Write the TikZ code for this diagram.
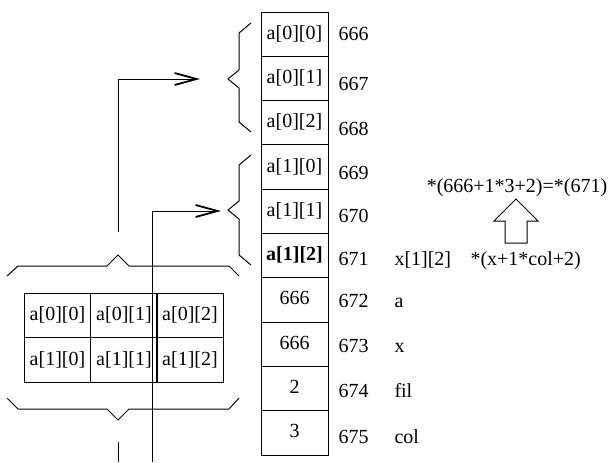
\documentclass[tikz,border=0pt]{standalone}
\usepackage{fontspec}
\setmainfont{Liberation Serif}
\usetikzlibrary{arrows.meta}
\begin{document}
\begin{tikzpicture}[x=0.5pt,y=-0.5pt,line width=0.5pt,
  txt/.style={font=\fontsize{10}{12}\selectfont},
  cell/.style={txt,draw,rectangle,minimum width=33.5pt,minimum height=22.15pt,inner sep=0pt,text height=7pt,text depth=2pt},
  tcell/.style={txt,draw,rectangle,minimum width=33.15pt,minimum height=22.25pt,inner sep=0pt,text height=7pt,text depth=2pt},
  lbl/.style={txt,anchor=base west,inner sep=0pt},
  ptr/.style={-{Straight Barb[length=11pt,width=6pt,line width=0.9pt]}},
  brace/.style={line join=miter}]
\useasboundingbox (0,0) rectangle (609,462);
% memory column
\node[cell] (m0) at (294.5,34.15) {a[0][0]};
\node[cell] (m1) at (294.5,78.45) {a[0][1]};
\node[cell] (m2) at (294.5,122.75) {a[0][2]};
\node[cell] (m3) at (294.5,167.05) {a[1][0]};
\node[cell] (m4) at (294.5,211.35) {a[1][1]};
\node[cell] (m5) at (294.5,255.65) {\textbf{a[1][2]}};
\node[cell] (m6) at (294.5,299.95) {666};
\node[cell] (m7) at (294.5,344.25) {666};
\node[cell] (m8) at (294.5,388.55) {2};
\node[cell] (m9) at (294.5,432.85) {3};
% addresses
\node[lbl] (ad0) at (338,40) {666};
\node[lbl] (ad1) at (338,90) {667};
\node[lbl] (ad2) at (338,135) {668};
\node[lbl] (ad3) at (338,179) {669};
\node[lbl] (ad4) at (338,222) {670};
\node[lbl] (ad5) at (338,265) {671};
\node[lbl] (ad6) at (338,307) {672};
\node[lbl] (ad7) at (338,352) {673};
\node[lbl] (ad8) at (338,397) {674};
\node[lbl] (ad9) at (338,443) {675};
% names
\node[lbl] (n5) at (394,265) {x[1][2]};
\node[lbl] (n6) at (394,307) {a};
\node[lbl] (n7) at (394,352) {x};
\node[lbl] (n8) at (394,397) {fil};
\node[lbl] (n9) at (394,443) {col};
\node[lbl] (expr) at (470,265) {*(x+1*col+2)};
\node[txt,anchor=base,inner sep=0pt] (res) at (517,192) {*(666+1*3+2)=*(671)};
% block arrow
\draw (516,199) -- (538,221) -- (527,221) -- (527,243) -- (505,243) -- (505,221) -- (494,221) -- cycle;
% table
\node[tcell] (t00) at (57.5,315.5) {a[0][0]};
\node[tcell] (t01) at (124,315.5) {a[0][1]};
\node[tcell] (t02) at (190,315.5) {a[0][2]};
\node[tcell] (t10) at (57.5,360) {a[1][0]};
\node[tcell] (t11) at (124,360) {a[1][1]};
\node[tcell] (t12) at (190,360) {a[1][2]};
% braces around table
\draw[brace] (7,276) -- (18,266) -- (107,266) -- (118,255) -- (129,266) -- (229,266) -- (239,276);
\draw[brace] (7,398) -- (18,409) -- (107,409) -- (118,420) -- (129,409) -- (229,409) -- (239,398);
% braces next to memory
\draw[brace] (251,23) -- (239,33) -- (239,70) -- (228,79) -- (239,88) -- (239,122) -- (251,132);
\draw[brace] (251,155) -- (239,165) -- (239,201) -- (228,210) -- (239,219) -- (239,255) -- (251,265);
% pointers
\coordinate (p1s) at (118,232);
\coordinate (p1e) at (200,79);
\coordinate (p1b) at (118,442);
\coordinate (p1c) at (118,462);
\coordinate (p2s) at (152,462);
\coordinate (p2e) at (221,211);
\draw[ptr] (p1s) |- (p1e);
\draw (p1b) -- (p1c);
\draw[ptr] (p2s) |- (p2e);
\end{tikzpicture}
\end{document}
